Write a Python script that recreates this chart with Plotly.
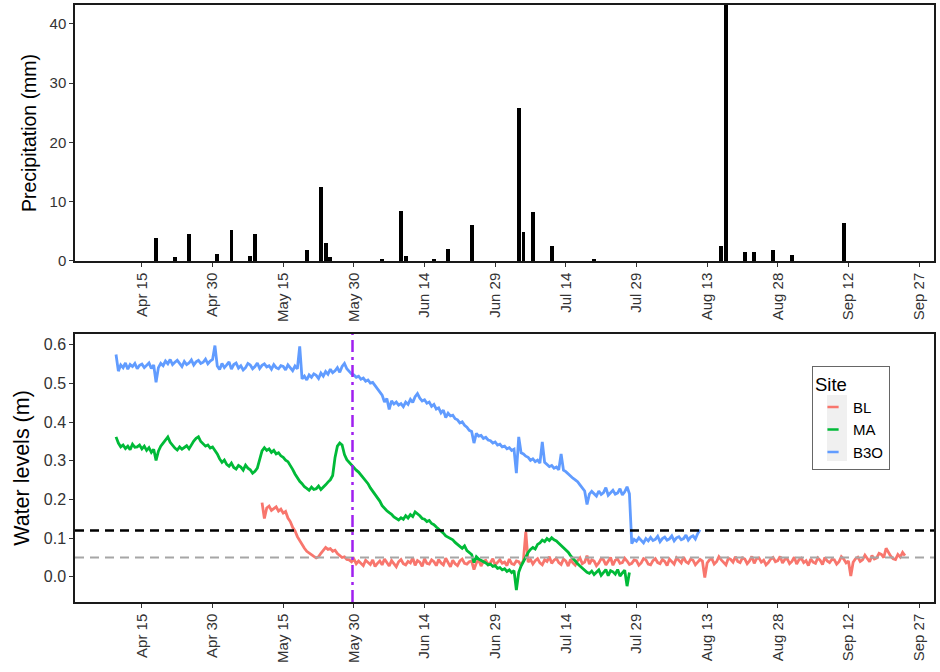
import pandas as pd
import plotly.graph_objects as go

# ---------------------------------------------------------------------------
# Daily precipitation totals (mm)
# ---------------------------------------------------------------------------
precip_dates = [
    "2021-04-18", "2021-04-22", "2021-04-25", "2021-05-01", "2021-05-04",
    "2021-05-08", "2021-05-09", "2021-05-20", "2021-05-23", "2021-05-24",
    "2021-05-25", "2021-06-05", "2021-06-09", "2021-06-10", "2021-06-16",
    "2021-06-19", "2021-06-24", "2021-07-04", "2021-07-05", "2021-07-07",
    "2021-07-11", "2021-07-20", "2021-08-16", "2021-08-17", "2021-08-21",
    "2021-08-23", "2021-08-27", "2021-08-31", "2021-09-11",
]
precip_mm = [
    3.9, 0.7, 4.5, 1.1, 5.2,
    0.8, 4.5, 1.8, 12.5, 3.1,
    0.6, 0.4, 8.5, 0.9, 0.4,
    2.0, 6.1, 25.9, 4.9, 8.3,
    2.5, 0.2, 2.6, 43.2, 1.6,
    1.5, 1.8, 1.0, 6.4,
]

# ---------------------------------------------------------------------------
# Water level logger readings (m), one reading every 12 hours
# ---------------------------------------------------------------------------
b3o_start = "2021-04-09 12:00"
b3o_level = [
    0.575,
    0.532, 0.548, 0.541, 0.553, 0.537, 0.549, 0.544, 0.552, 0.538, 0.547,
    0.550, 0.541, 0.546, 0.553, 0.539, 0.548, 0.503, 0.541, 0.552, 0.546,
    0.558, 0.551, 0.562, 0.549, 0.555, 0.560, 0.552, 0.544, 0.557, 0.549,
    0.553, 0.561, 0.548, 0.556, 0.560, 0.552, 0.555, 0.563, 0.551, 0.558,
    0.562, 0.598,
    0.545, 0.536, 0.552, 0.541, 0.548, 0.556, 0.537, 0.549, 0.553, 0.540,
    0.546, 0.535, 0.541, 0.552, 0.548, 0.538, 0.544, 0.553, 0.539, 0.547,
    0.551, 0.543, 0.546, 0.537, 0.549, 0.541, 0.538, 0.546, 0.544, 0.535,
    0.548, 0.540, 0.533, 0.545, 0.538, 0.596, 0.512, 0.519, 0.509, 0.522,
    0.516, 0.525, 0.521, 0.513, 0.527, 0.519, 0.531, 0.524, 0.537, 0.528,
    0.533, 0.541, 0.529, 0.544, 0.552, 0.538, 0.531, 0.525, 0.522, 0.516,
    0.519, 0.511,
    0.514, 0.506, 0.509, 0.501, 0.503, 0.495, 0.488, 0.479, 0.470, 0.452,
    0.461, 0.433, 0.455, 0.447, 0.452, 0.444, 0.448, 0.440, 0.452, 0.446,
    0.459, 0.451, 0.466, 0.474, 0.462, 0.455, 0.458, 0.449, 0.452, 0.441,
    0.446, 0.434, 0.437, 0.424, 0.431, 0.412, 0.423, 0.416, 0.418, 0.409,
    0.406, 0.398, 0.401, 0.392, 0.387, 0.379, 0.376, 0.346, 0.371, 0.364,
    0.366, 0.358, 0.361, 0.354, 0.352, 0.346, 0.349, 0.341, 0.343, 0.336,
    0.338, 0.331, 0.334, 0.327, 0.330, 0.268, 0.362, 0.321, 0.318, 0.312,
    0.309, 0.301, 0.305, 0.298, 0.302, 0.294, 0.349, 0.296, 0.291, 0.285,
    0.288, 0.281, 0.284, 0.277, 0.318, 0.276, 0.272, 0.266, 0.262, 0.255,
    0.251, 0.246, 0.238, 0.231, 0.222, 0.187, 0.214, 0.221, 0.216, 0.209,
    0.222, 0.213, 0.218, 0.231, 0.211, 0.219, 0.224, 0.214, 0.217, 0.228,
    0.212, 0.220, 0.233, 0.215, 0.086, 0.097, 0.092, 0.101, 0.095, 0.088,
    0.099, 0.093,
    0.102, 0.094, 0.097, 0.105, 0.091, 0.099, 0.103, 0.095, 0.098, 0.106,
    0.093, 0.101, 0.104, 0.096, 0.099, 0.108, 0.095, 0.103, 0.106, 0.098,
    0.112, 0.122,
]

ma_start = "2021-04-09 12:00"
ma_level = [
    0.362,
    0.346, 0.336, 0.341, 0.332, 0.338, 0.329, 0.343, 0.335, 0.336, 0.341,
    0.331, 0.338, 0.327, 0.334, 0.322, 0.330, 0.301, 0.325, 0.338, 0.346,
    0.355, 0.362, 0.348, 0.339, 0.333, 0.328, 0.336, 0.330, 0.334, 0.339,
    0.331, 0.342, 0.351, 0.358, 0.362, 0.350, 0.344, 0.338, 0.341, 0.333,
    0.336, 0.328,
    0.318, 0.305, 0.296, 0.302, 0.291, 0.286, 0.294, 0.283, 0.279, 0.288,
    0.284, 0.276, 0.289, 0.281, 0.277, 0.268, 0.273, 0.281, 0.302, 0.326,
    0.334, 0.327, 0.331, 0.322, 0.327, 0.318, 0.321, 0.313, 0.309, 0.302,
    0.298, 0.289, 0.278, 0.266, 0.256, 0.247, 0.241, 0.233, 0.229, 0.224,
    0.232, 0.226, 0.228, 0.235, 0.226, 0.231, 0.238, 0.245, 0.251, 0.262,
    0.309, 0.338, 0.346, 0.341, 0.316, 0.303, 0.296, 0.291, 0.284, 0.276,
    0.271, 0.263,
    0.258, 0.249, 0.241, 0.230, 0.222, 0.212, 0.203, 0.196, 0.184, 0.176,
    0.171, 0.166, 0.162, 0.155, 0.151, 0.147, 0.153, 0.149, 0.158, 0.152,
    0.161, 0.156, 0.168, 0.164, 0.158, 0.151, 0.149, 0.143, 0.146, 0.138,
    0.135, 0.129, 0.124, 0.118, 0.113, 0.106, 0.102, 0.098, 0.096, 0.089,
    0.085, 0.079, 0.074, 0.080, 0.068, 0.062, 0.058, 0.037, 0.052, 0.046,
    0.043, 0.038, 0.036, 0.031, 0.033, 0.027, 0.029, 0.022, 0.024, 0.018,
    0.021, 0.014, 0.018, 0.011, 0.016, -0.034, 0.012, 0.028, 0.041, 0.052,
    0.063, 0.071, 0.076, 0.072, 0.084, 0.088, 0.095, 0.091, 0.099, 0.094,
    0.101, 0.096, 0.093, 0.087, 0.081, 0.076, 0.071, 0.064, 0.055, 0.047,
    0.040, 0.034, 0.028, 0.022, 0.017, 0.012, 0.009, 0.015, 0.006, 0.013,
    0.018, 0.004, 0.011, 0.019, 0.003, 0.016, 0.013, 0.007, 0.019, 0.002,
    0.010, 0.017, -0.024, 0.011,
]

bl_start = "2021-05-10 12:00"
bl_level = [
    0.192,
    0.151, 0.178, 0.183, 0.172, 0.176, 0.181, 0.170, 0.175, 0.165, 0.169,
    0.152, 0.143, 0.128, 0.119, 0.104, 0.094, 0.082, 0.074, 0.066, 0.061,
    0.057, 0.053, 0.049, 0.052, 0.061, 0.068, 0.076, 0.071, 0.073, 0.066,
    0.069, 0.060, 0.055, 0.050, 0.052, 0.045, 0.044, 0.039, 0.046, 0.034,
    0.041, 0.036,
    0.029, 0.043, 0.038, 0.032, 0.044, 0.027, 0.035, 0.041, 0.031, 0.046,
    0.037, 0.028, 0.042, 0.033, 0.026, 0.039, 0.045, 0.034, 0.031, 0.040,
    0.036, 0.049, 0.030, 0.042, 0.038, 0.027, 0.047, 0.035, 0.033, 0.044,
    0.039, 0.029, 0.045, 0.036, 0.031, 0.048, 0.037, 0.026, 0.043, 0.034,
    0.029, 0.041, 0.046, 0.035, 0.033, 0.039, 0.041, 0.019, 0.036, 0.044,
    0.028, 0.040, 0.043, 0.032, 0.037, 0.047, 0.031, 0.039, 0.044, 0.035,
    0.038, 0.029, 0.046, 0.034, 0.032, 0.041, 0.039, 0.030, 0.043, 0.117,
    0.038, 0.045, 0.033, 0.042, 0.047, 0.036, 0.031, 0.044, 0.040, 0.052,
    0.035, 0.043, 0.048, 0.037, 0.032, 0.046, 0.041, 0.028, 0.045, 0.036,
    0.030, 0.042, 0.049, 0.034, 0.038, 0.055, 0.033, 0.044, 0.041, 0.029,
    0.036, 0.047, 0.044, 0.031, 0.039, 0.050, 0.030, 0.043, 0.046, 0.035,
    0.037, 0.048, 0.041, 0.032, 0.035, 0.044, 0.042, 0.030, 0.036, 0.047,
    0.044, 0.033,
    0.031, 0.042, 0.047, 0.037, 0.034, 0.045, 0.040, 0.029, 0.046, 0.038,
    0.033, 0.049, 0.042, 0.036, 0.051, 0.039, 0.035, 0.046, 0.043, 0.031,
    0.038, 0.045, 0.041, -0.002, 0.036, 0.044, 0.047, 0.033, 0.039, 0.052,
    0.044, 0.036, 0.031, 0.048, 0.045, 0.038, 0.052, 0.040, 0.037, 0.049,
    0.046, 0.034, 0.041, 0.053, 0.035, 0.047, 0.049, 0.038, 0.043, 0.031,
    0.037, 0.046, 0.050, 0.039, 0.042, 0.053, 0.036, 0.045, 0.047, 0.034,
    0.040, 0.051,
    0.033, 0.044, 0.048, 0.037, 0.042, 0.029, 0.046, 0.038, 0.035, 0.049,
    0.043, 0.032, 0.050, 0.041, 0.037, 0.045, 0.044, 0.033, 0.039, 0.052,
    0.046, 0.036, 0.041, 0.002, 0.038, 0.047, 0.051, 0.040, 0.044, 0.056,
    0.048, 0.039, 0.055, 0.046, 0.049, 0.061, 0.058, 0.050, 0.074, 0.062,
    0.053, 0.047, 0.045, 0.058, 0.051, 0.063, 0.055,
]

site_names = ["BL", "MA", "B3O"]
site_colors = ["#F8766D", "#00BA38", "#619CFF"]

# Reference levels and the marked date
threshold_upper = 0.12
threshold_lower = 0.05
event_date = "2021-05-29 17:00"

# Date axis ticks
tick_dates = ["2021-04-15", "2021-04-30", "2021-05-15", "2021-05-30",
              "2021-06-14", "2021-06-29", "2021-07-14", "2021-07-29",
              "2021-08-13", "2021-08-28", "2021-09-12", "2021-09-27"]
tick_labels = ["Apr 15", "Apr 30", "May 15", "May 30", "Jun 14", "Jun 29",
               "Jul 14", "Jul 29", "Aug 13", "Aug 28", "Sep 12", "Sep 27"]
date_range = ["2021-03-31 19:00", "2021-09-30 04:00"]

precip_ticks = [0, 10, 20, 30, 40]
level_ticks = [0.0, 0.1, 0.2, 0.3, 0.4, 0.5, 0.6]

# ---------------------------------------------------------------------------
FONT = "Liberation Sans, Arial, sans-serif"
TEXT = "#333333"
HALF_DAY = "12h"

series = {
    "BL": (bl_start, bl_level),
    "MA": (ma_start, ma_level),
    "B3O": (b3o_start, b3o_level),
}

fig = go.Figure()

fig.add_trace(go.Bar(
    x=pd.to_datetime(precip_dates), y=precip_mm,
    width=0.8 * 86400000, marker=dict(color="black", line=dict(width=0)),
    xaxis="x", yaxis="y", showlegend=False,
))

for name, color in zip(site_names, site_colors):
    start, values = series[name]
    times = pd.date_range(start, periods=len(values), freq=HALF_DAY)
    fig.add_trace(go.Scatter(
        x=times, y=values, mode="lines", name=name,
        line=dict(color=color, width=2.8),
        xaxis="x2", yaxis="y2", showlegend=False,
    ))

# legend entries with short line keys
for name, color in zip(site_names, site_colors):
    fig.add_trace(go.Scatter(
        x=[None], y=[None], mode="markers", name=name,
        marker=dict(symbol="line-ew", size=8, color=color,
                    line=dict(color=color, width=2.5)),
        xaxis="x2", yaxis="y2", showlegend=True,
    ))

frame = dict(showline=True, linecolor="#1a1a1a", linewidth=1.5, mirror=True,
             ticks="outside", ticklen=4, tickwidth=1, tickcolor=TEXT,
             showgrid=False, zeroline=False, automargin=False)

date_axis = dict(frame, type="date", range=date_range,
                 tickmode="array", tickvals=tick_dates, ticktext=tick_labels,
                 tickangle=-90, tickfont=dict(size=15, color=TEXT, family=FONT))

# light grey panel behind the legend keys (paper coordinates)
key_panel = dict(type="rect", xref="paper", yref="paper",
                 x0=0.8754, x1=0.8987, y0=0.236, y1=0.3467, layer="above",
                 fillcolor="#F0F0F0", line=dict(width=0))

fig.update_layout(
    width=940, height=672,
    margin=dict(l=75, r=6, t=5, b=70),
    paper_bgcolor="white", plot_bgcolor="white",
    font=dict(family=FONT, color=TEXT),
    bargap=0,
    xaxis=dict(date_axis, domain=[0, 1], anchor="y"),
    yaxis=dict(frame, domain=[0.5712, 1], anchor="x", range=[0, 43.2],
               tickmode="array", tickvals=precip_ticks,
               tickfont=dict(size=15, color=TEXT),
               title=dict(text="Precipitation (mm)", standoff=8,
                          font=dict(size=19.5, color="black"))),
    xaxis2=dict(date_axis, domain=[0, 1], anchor="y2"),
    yaxis2=dict(frame, domain=[0, 0.4489], anchor="x2", range=[-0.065, 0.628],
                tickmode="array", tickvals=level_ticks, tickformat=".1f",
                tickfont=dict(size=16, color=TEXT),
                title=dict(text="Water levels (m)", standoff=8,
                           font=dict(size=21.5, color="black"))),
    legend=dict(
        title=dict(text="Site", font=dict(size=18.5, color="black")),
        font=dict(size=15, color="black"),
        x=0.858, y=0.396, xanchor="left", yanchor="top",
        bgcolor="rgba(0,0,0,0)", bordercolor="#666666", borderwidth=1,
        tracegroupgap=0,
    ),
    shapes=[
        dict(type="line", xref="x2 domain", yref="y2", x0=0, x1=1,
             y0=threshold_upper, y1=threshold_upper, layer="above",
             line=dict(color="black", width=2.5, dash="9px,6px")),
        dict(type="line", xref="x2 domain", yref="y2", x0=0, x1=1,
             y0=threshold_lower, y1=threshold_lower, layer="above",
             line=dict(color="#A6A6A6", width=2, dash="9px,6px")),
        dict(type="line", xref="x2", yref="y2 domain", x0=event_date,
             x1=event_date, y0=0, y1=1, layer="above",
             line=dict(color="#A020F0", width=2.5, dash="12px,5px,3px,5px")),
        key_panel,
    ],
)

fig.write_html("out.html")
